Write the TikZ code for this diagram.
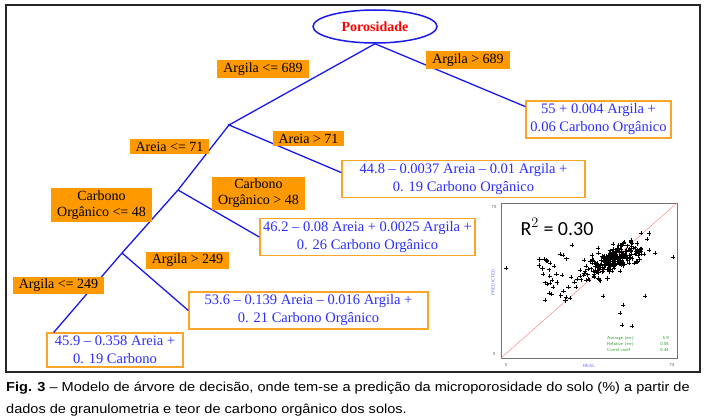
\documentclass[tikz,border=0pt]{standalone}
\usepackage{fontspec}
\usetikzlibrary{shapes.geometric}
\setmainfont{Liberation Serif}
\newfontfamily\capfont[FakeStretch=1.12]{Liberation Sans}
\newfontfamily\plotfont{Carlito}
\definecolor{treeblue}{RGB}{25,25,235}
\definecolor{leafblue}{RGB}{45,45,255}
\definecolor{condorange}{RGB}{255,153,0}
\definecolor{leaforange}{RGB}{250,165,40}
\definecolor{statgreen}{RGB}{40,150,40}

\begin{document}
\begin{tikzpicture}[x=1pt,y=-1pt]
        \tikzset{branch/.style={draw=treeblue,line width=1.3pt},
            cond/.style={fill=condorange,inner xsep=6pt,inner ysep=2.5pt,
                align=center,font=\fontsize{14}{16}\selectfont},
            leaf/.style={draw=leaforange,line width=1.3pt,fill=white,text=leafblue,
                align=center,inner ysep=3pt,font=\fontsize{14.5}{18}\selectfont},
            tiny/.style={font=\fontsize{4.5}{5}\selectfont\sffamily,inner sep=0pt},
            crossmark/.pic={\draw[line width=0.45pt] (-2.1,0) -- (2.1,0) (0,-2.1) -- (0,2.1);}}
        \useasboundingbox (0,0) rectangle (707,420);
        \draw[line width=1.5pt,black!85] (6,5) rectangle (700,372);

        % tree
        \node[ellipse,draw=treeblue,line width=1.5pt,minimum width=124pt,minimum height=33pt,
            text=red,font=\fontsize{14}{16}\selectfont\bfseries] (root) at (375,26.5) {Porosidade};
        \coordinate (n2) at (229,125);
        \coordinate (n3) at (178,190);
        \coordinate (n4) at (122,253);
        \node[leaf,minimum width=145pt] (leaf1) at (598.5,119.5) {55 + 0.004 Argila +\\0.06 Carbono Orgânico};
        \node[leaf,minimum width=243pt] (leaf2) at (463.5,179) {44.8 – 0.0037 Areia – 0.01 Argila +\\0. 19 Carbono Orgânico};
        \node[leaf,minimum width=215pt] (leaf3) at (367.5,237) {46.2 – 0.08 Areia + 0.0025 Argila +\\0. 26 Carbono Orgânico};
        \node[leaf,minimum width=239pt] (leaf4) at (308.5,310.5) {53.6 – 0.139 Areia – 0.016 Argila +\\0. 21 Carbono Orgânico};
        \node[leaf,minimum width=136pt] (leaf5) at (115,350) {45.9 – 0.358 Areia +\\0. 19 Carbono};

        \draw[branch] (root.south) -- (n2);
        \draw[branch] (root.south) -- (leaf1.170);
        \draw[branch] (n2) -- (n3) -- (n4) -- (leaf5.164);
        \draw[branch] (n2) -- (leaf2.177);
        \draw[branch] (n3) -- (leaf3.west);
        \draw[branch] (n4) -- (leaf4.west);
        \fill[treeblue] (n2) circle (1.3pt);

        \node[cond] (c1) at (263,69) {Argila <= 689};
        \node[cond] (c2) at (468,60) {Argila > 689};
        \node[cond] (c3) at (169.5,146.5) {Areia <= 71};
        \node[cond] (c4) at (308.5,138.5) {Areia > 71};
        \node[cond] (c5) at (101.5,205) {Carbono\\Orgânico <= 48};
        \node[cond] (c6) at (258.5,193.5) {Carbono\\Orgânico > 48};
        \node[cond] (c7) at (187.5,260.5) {Argila > 249};
        \node[cond] (c8) at (58.5,285.5) {Argila <= 249};

        % scatter inset
        \draw[black!55,line width=0.6pt] (501,203) rectangle (677,358);
        \draw[red!55,line width=0.4pt] (501,358) -- (677,203);
        \pgfmathsetseed{11}
        \foreach \i in {1,...,230}{
            \pgfmathsetmacro\a{(rand+rand+rand)/3}
            \pgfmathsetmacro\b{(rand+rand+rand)/3}
            \pic at ({612+48*\a},{261-20*\a+20*\b}) {crossmark};
        }
        \foreach \i in {1,...,30}{
            \pgfmathsetmacro\a{rand}
            \pgfmathsetmacro\b{rand}
            \pic at ({554+16*\a},{276+25*\b}) {crossmark};
        }
        \foreach \p in {(506,268),(673,257),(620,313),(622,325),(623,305),(632,326),(603,296),(645,296),(592,259),(598,248),(572,245),(570,298)}
            \pic at \p {crossmark};
        \node[font=\plotfont\fontsize{20}{22}\selectfont,inner sep=0pt] (rsq) at (557,227) {R$^2$ = 0.30};
        \node[tiny,text=black!60] (y78) at (494,207) {78};
        \node[tiny,text=black!60] (y0) at (494,354) {0};
        \node[tiny,text=black!60] (x0) at (506,365) {0};
        \node[tiny,text=black!60] (x78) at (672,365) {78};
        \node[tiny,text=blue!60] (xlab) at (589,366) {REAL};
        \node[tiny,text=blue!60,rotate=90] (ylab) at (493,282) {PREDICTED};
        \node[tiny,text=statgreen,anchor=west] (s1) at (607,338) {Average (err)};
        \node[tiny,text=statgreen,anchor=west] (s2) at (607,344) {Relative (err)};
        \node[tiny,text=statgreen,anchor=west] (s3) at (607,350) {Correl coeff};
        \node[tiny,text=statgreen,anchor=east] (v1) at (669,338) {5.9};
        \node[tiny,text=statgreen,anchor=east] (v2) at (669,344) {0.05};
        \node[tiny,text=statgreen,anchor=east] (v3) at (669,350) {0.44};

        % caption
        \node[anchor=base west,inner sep=0pt,font=\capfont\fontsize{13}{15}\selectfont] (cap1) at (6,391)
            {\textbf{Fig. 3} – Modelo de árvore de decisão, onde tem-se a predição da microporosidade do solo (\%) a partir de};
        \node[anchor=base west,inner sep=0pt,font=\capfont\fontsize{13}{15}\selectfont] (cap2) at (6,413)
            {dados de granulometria e teor de carbono orgânico dos solos.};
\end{tikzpicture}
\end{document}
